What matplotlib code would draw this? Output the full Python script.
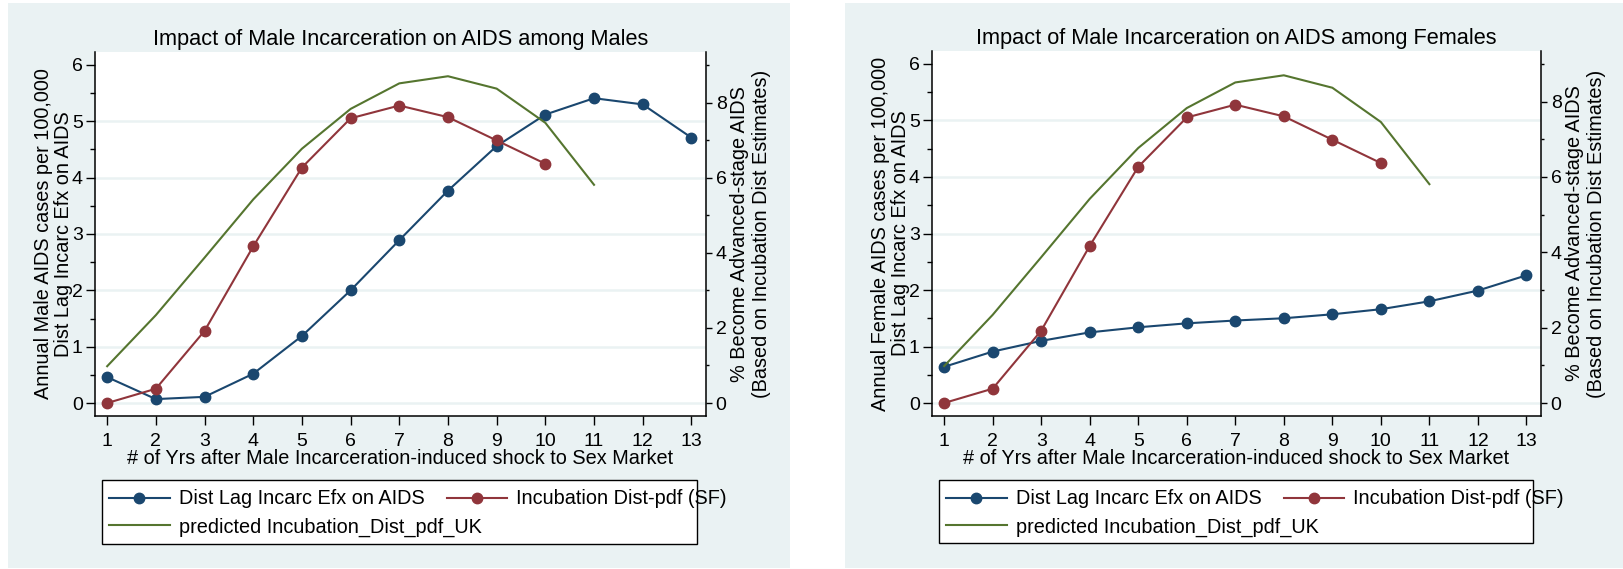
import numpy as np
import matplotlib
matplotlib.use("Agg")
import matplotlib.pyplot as plt
from matplotlib.patches import Rectangle
from matplotlib.ticker import MultipleLocator

plt.rcParams['font.family'] = ['Liberation Sans', 'DejaVu Sans']

# data
years = list(range(1, 14))
male_efx = [0.46, 0.07, 0.11, 0.52, 1.19, 2.00, 2.89, 3.77, 4.56, 5.12, 5.41, 5.30, 4.71]
female_efx = [0.64, 0.91, 1.10, 1.25, 1.34, 1.41, 1.46, 1.50, 1.57, 1.66, 1.80, 1.99, 2.26]
incub_sf = [0.0, 0.38, 1.92, 4.17, 6.27, 7.58, 7.92, 7.61, 6.99, 6.37]
incub_uk = [0.98, 2.34, 3.87, 5.42, 6.77, 7.83, 8.51, 8.70, 8.37, 7.46, 5.81]

left_ticks = [0, 1, 2, 3, 4, 5, 6]
right_ticks = [0, 2, 4, 6, 8]

NAVY = '#1A476F'
MAROON = '#90353B'
GREEN = '#55752F'
BG = '#EAF2F3'

W, H = 1623, 569
FS = 14.3


def px_rect(x0, y0, x1, y1):
    return [x0 / W, 1 - y1 / H, (x1 - x0) / W, (y1 - y0) / H]


def draw_panel(fig, bg, box, legbox, efx, title, ylab):
    r = px_rect(*bg)
    fig.add_artist(Rectangle(r[:2], r[2], r[3], transform=fig.transFigure,
                             facecolor=BG, edgecolor='none', zorder=-10))
    r = px_rect(*legbox)
    fig.add_artist(Rectangle(r[:2], r[2], r[3], transform=fig.transFigure,
                             facecolor='white', edgecolor='black', lw=1.0, zorder=-5))

    ax = fig.add_axes(px_rect(*box))
    ax2 = ax.twinx()

    l1, = ax.plot(years, efx, color=NAVY, lw=1.5, marker='o', ms=7.5,
                  label='Dist Lag Incarc Efx on AIDS')
    l2, = ax2.plot(years[:len(incub_sf)], incub_sf, color=MAROON, lw=1.5, marker='o', ms=7.5,
                   label='Incubation Dist-pdf (SF)')
    l3, = ax2.plot(years[:len(incub_uk)], incub_uk, color=GREEN, lw=1.5,
                   label='predicted Incubation_Dist_pdf_UK')

    ax.set_xlim(0.75, 13.3)
    ax.set_ylim(-0.23, 6.23)
    ax2.set_ylim(-0.345, 9.345)
    ax.set_xticks(years)
    ax.set_yticks(left_ticks)
    ax.yaxis.set_minor_locator(MultipleLocator(0.5))
    ax2.set_yticks(right_ticks)
    ax2.yaxis.set_minor_locator(MultipleLocator(1))

    for v in left_ticks[:-1]:
        ax.axhline(v, color=BG, lw=1.8, zorder=0.5)

    for a in (ax, ax2):
        a.tick_params(which='major', direction='out', length=6.3, width=1, labelsize=14, pad=2.5)
        a.tick_params(which='minor', direction='out', length=3.5, width=1)
        for s in a.spines.values():
            s.set_linewidth(1.1)
        a.spines['top'].set_visible(False)
    ax2.tick_params(which='major', length=4.5)
    ax2.tick_params(which='minor', length=2.5)
    ax.tick_params(axis='x', pad=6)
    ax.spines['right'].set_visible(False)
    ax2.spines['left'].set_visible(False)
    ax2.spines['bottom'].set_visible(False)

    ax.set_title(title, fontsize=15.7, pad=5)
    ax.set_xlabel('# of Yrs after Male Incarceration-induced shock to Sex Market', fontsize=FS)
    ax.xaxis.set_label_coords(0.5, -0.09)
    ax.set_ylabel(ylab, fontsize=FS, linespacing=1.1)
    ax.yaxis.set_label_coords(-0.036, 0.5)
    ax2.set_ylabel('% Become Advanced-stage AIDS\n(Based on Incubation Dist Estimates)',
                   fontsize=FS, linespacing=1.15)
    ax2.yaxis.set_label_coords(1.04, 0.5)

    # legend: first row holds two entries, second row one
    x_anchor = (legbox[0] + 7) / W
    common = dict(frameon=False, loc='center left', bbox_transform=fig.transFigure,
                  fontsize=FS, handlelength=3.07, handletextpad=0.45,
                  borderpad=0, borderaxespad=0)
    leg1 = ax2.legend([l1, l2], [l1.get_label(), l2.get_label()], ncol=2,
                      columnspacing=1.1, bbox_to_anchor=(x_anchor, 1 - (legbox[1] + 19) / H),
                      **common)
    ax2.add_artist(leg1)
    ax2.legend([l3], [l3.get_label()], bbox_to_anchor=(x_anchor, 1 - (legbox[1] + 47) / H),
               **common)
    return ax, ax2


fig = plt.figure(figsize=(W / 100, H / 100), dpi=100)
fig.patch.set_facecolor('white')

draw_panel(fig, (8, 3, 790, 568), (95, 52, 706, 416), (102, 480, 697, 544), male_efx,
           'Impact of Male Incarceration on AIDS among Males',
           'Annual Male AIDS cases per 100,000\nDist Lag Incarc Efx on AIDS')
draw_panel(fig, (845, 3, 1623, 568), (932, 51, 1541, 416), (939, 480, 1533, 543), female_efx,
           'Impact of Male Incarceration on AIDS among Females',
           'Annual Female AIDS cases per 100,000\nDist Lag Incarc Efx on AIDS')

fig.savefig('out.png', dpi=100)
